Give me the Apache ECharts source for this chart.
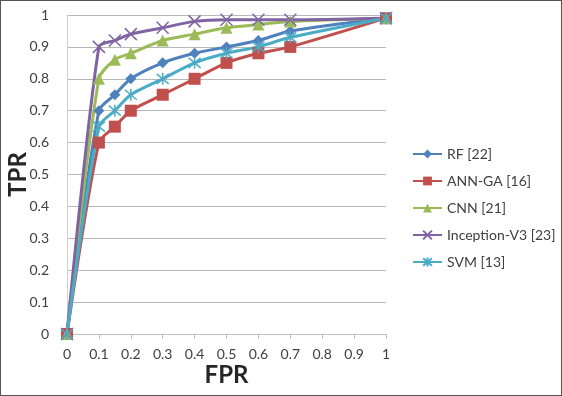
<!DOCTYPE html>
<html>
<head>
<meta charset="utf-8">
<script src="https://cdn.jsdelivr.net/npm/echarts@6/dist/echarts.min.js"></script>
<style>
    html, body { margin: 0; padding: 0; background: #fff; }
    #chart { width: 562px; height: 396px; outline: 1px solid #555; outline-offset: -1px; }
</style>
</head>
<body>
<div id="chart"></div>
<script>
let fpr = [0, 0.1, 0.15, 0.2, 0.3, 0.4, 0.5, 0.6, 0.7, 1];
let rf = [0, 0.70, 0.75, 0.80, 0.85, 0.88, 0.90, 0.92, 0.95, 0.99];
let annGa = [0, 0.60, 0.65, 0.70, 0.75, 0.80, 0.85, 0.88, 0.90, 0.99];
let cnn = [0, 0.80, 0.86, 0.88, 0.92, 0.94, 0.96, 0.97, 0.98, 0.99];
let inception = [0, 0.90, 0.92, 0.94, 0.96, 0.98, 0.985, 0.985, 0.985, 0.99];
let svm = [0, 0.65, 0.70, 0.75, 0.80, 0.85, 0.88, 0.90, 0.93, 0.99];

let seriesNames = ["RF [22]", "ANN-GA [16]", "CNN [21]", "Inception-V3 [23]", "SVM [13]"];
let seriesData = [rf, annGa, cnn, inception, svm];
let colors = ["#4f81bd", "#c0504d", "#9bbb59", "#8064a2", "#4bacc6"];
let symbols = [
    "diamond",
    "rect",
    "triangle",
    "path://M0 0L10 10M10 0L0 10",
    "path://M0 0L10 10M10 0L0 10M5 -1L5 11"
];
let symbolSizes = [11, 12, 12, 12, 12];

function makeSeries(i) {
    let stroked = i >= 3;
    return {
        name: seriesNames[i],
        type: "line",
        data: seriesData[i].map((v, k) => [fpr[k], v]),
        smooth: 0.25,
        symbol: symbols[i],
        symbolSize: symbolSizes[i],
        showAllSymbol: true,
        lineStyle: { color: colors[i], width: 3 },
        itemStyle: {
            color: stroked ? "rgba(0,0,0,0)" : colors[i],
            borderColor: colors[i],
            borderWidth: stroked ? 1.5 : 0
        },
        emphasis: { disabled: true }
    };
}

let chart = echarts.init(document.getElementById("chart"));
let option = {
    animation: false,
    color: colors,
    textStyle: { fontFamily: "Lato" },
    grid: { left: 67, right: 176, top: 15, bottom: 62, containLabel: false, outerBoundsMode: "none" },
    legend: {
        orient: "vertical",
        left: 412,
        top: 147,
        padding: 0,
        itemWidth: 29,
        itemHeight: 11,
        itemGap: 13,
        textStyle: { fontSize: 14, color: "#404040", fontFamily: "Lato" },
        data: seriesNames
    },
    xAxis: {
        type: "value",
        min: 0,
        max: 1,
        interval: 0.1,
        name: "FPR",
        nameLocation: "middle",
        nameGap: 29,
        nameMoveOverlap: false,
        nameTextStyle: { fontSize: 24, fontWeight: "bold", color: "#262626", fontFamily: "Lato" },
        axisLine: { show: true, lineStyle: { color: "#bfbfbf", width: 1 } },
        axisTick: { show: true, length: 5, lineStyle: { color: "#bfbfbf" } },
        axisLabel: { margin: 13, fontSize: 14, color: "#404040" },
        splitLine: { show: false }
    },
    yAxis: {
        type: "value",
        min: 0,
        max: 1,
        interval: 0.1,
        name: "TPR",
        nameLocation: "middle",
        nameGap: 37,
        nameMoveOverlap: false,
        nameTextStyle: { fontSize: 24, fontWeight: "bold", color: "#262626", fontFamily: "Lato" },
        axisLine: { show: true, lineStyle: { color: "#d0d0d0", width: 1 } },
        axisTick: { show: false },
        axisLabel: { margin: 18, fontSize: 14, color: "#404040" },
        splitLine: { show: true, lineStyle: { color: "#b8b8b8", width: 1 } }
    },
    series: seriesNames.map((n, i) => makeSeries(i))
};
chart.setOption(option);
</script>
</body>
</html>
